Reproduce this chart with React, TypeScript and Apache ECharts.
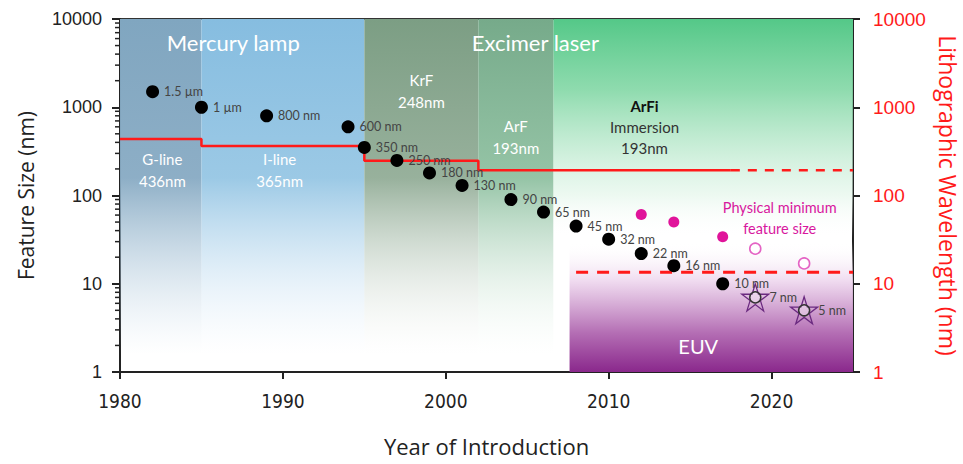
import React, { useEffect, useRef } from "react";
import * as echarts from "echarts";

// ---- data ----
const featureYears = [1982, 1985, 1989, 1994, 1995, 1997, 1999, 2001, 2004, 2006, 2008, 2010, 2012, 2014, 2017];
const featureSizes = [1500, 1000, 800, 600, 350, 250, 180, 130, 90, 65, 45, 32, 22, 16, 10];
const featureLabels = ["1.5 µm", "1 µm", "800 nm", "600 nm", "350 nm", "250 nm", "180 nm", "130 nm", "90 nm", "65 nm", "45 nm", "32 nm", "22 nm", "16 nm", "10 nm"];

const euvNodeYears = [2019, 2022];
const euvNodeSizes = [7, 5];
const euvNodeLabels = ["7 nm", "5 nm"];

const physMinYears = [2012, 2014, 2017];
const physMinSizes = [61, 50, 34];
const physMinProjYears = [2019, 2022];
const physMinProjSizes = [25, 17];

const wavelengthYears = [1980, 1985, 1995, 2002, 2017.5];
const wavelengths = [436, 365, 248, 193, 193];
const wavelengthProjYears = [2017.5, 2025];
const wavelengthProjValues = [193, 193];
const euvWavelengthYears = [2008, 2025];
const euvWavelengthValues = [13.5, 13.5];

const xTicks = [1980, 1990, 2000, 2010, 2020];
const yTicks = [1, 10, 100, 1000, 10000];

const eraNames = ["ArFi", "EUV", "G-line", "I-line", "KrF", "ArF"];
const eraStarts = [2006.6, 2007.6, 1980, 1985, 1995, 2002];
const eraEnds = [2025, 2025, 1985, 1995, 2002, 2006.6];
const eraBottoms = [1, 1, 1, 1, 1, 1];
const eraTops = [10000, 30, 10000, 10000, 10000, 10000];

// annotation texts (data coordinates)
const noteTexts = ["Mercury lamp", "Excimer laser", "G-line\n436nm", "I-line\n365nm", "KrF\n248nm", "ArF\n193nm", "{b|ArFi}\n{n|Immersion}\n{n|193nm}", "Physical minimum\nfeature size", "EUV"];
const noteYears = [1986.95, 2005.5, 1982.6, 1989.8, 1998.5, 2004.3, 2012.2, 2020.5, 2015.5];
const noteValues = [5350, 5350, 195, 195, 1527, 460, 597, 55.6, 1.97];

const HUMANIST = "Lato, 'Open Sans', sans-serif";
const NARROW = "'Liberation Sans Narrow', 'DejaVu Sans Condensed', 'Liberation Sans', sans-serif";

function grad(stops: [number, string][]) {
  return new echarts.graphic.LinearGradient(0, 0, 0, 1, stops.map(([offset, color]) => ({ offset, color })));
}

const eraFills: Record<string, any> = {
  "G-line": grad([[0, "rgba(128,166,192,1)"], [0.45, "rgba(135,170,195,0.95)"], [0.95, "rgba(200,220,235,0)"], [1, "rgba(255,255,255,0)"]]),
  "I-line": grad([[0, "rgba(134,189,224,1)"], [0.45, "rgba(150,198,228,0.95)"], [0.95, "rgba(220,235,248,0)"], [1, "rgba(255,255,255,0)"]]),
  KrF: grad([[0, "rgba(124,158,132,1)"], [0.45, "rgba(140,168,145,0.9)"], [0.95, "rgba(230,235,230,0)"], [1, "rgba(255,255,255,0)"]]),
  ArF: grad([[0, "rgba(118,170,138,1)"], [0.45, "rgba(130,185,150,0.85)"], [0.95, "rgba(230,245,235,0)"], [1, "rgba(255,255,255,0)"]]),
  ArFi: grad([[0, "rgba(84,200,136,1)"], [0.2, "rgba(130,215,165,0.9)"], [0.5, "rgba(225,245,232,0.6)"], [0.62, "rgba(255,255,255,0)"], [1, "rgba(255,255,255,0)"]]),
  EUV: grad([[0, "rgba(255,255,255,0)"], [0.3, "rgba(238,215,238,0.9)"], [0.7, "rgba(180,110,180,1)"], [1, "rgba(138,40,140,1)"]]),
};

const STAR = "path://M50,2 L61.2,36.3 L97.5,36.3 L68.2,57.5 L79.4,91.8 L50,70.6 L20.6,91.8 L31.8,57.5 L2.5,36.3 L38.8,36.3 Z";

const plain = (v: number) => String(v);

export default function App() {
  const ref = useRef<HTMLDivElement>(null);

  useEffect(() => {
    document.body.style.margin = "0";
    if (!ref.current) return;
    const chart = echarts.init(ref.current, undefined, { renderer: "svg" });

    const markAreaData = eraNames.map((name, i) => [
      { name, itemStyle: { color: eraFills[name] }, xAxis: eraStarts[i], yAxis: eraBottoms[i] },
      { xAxis: eraEnds[i], yAxis: eraTops[i] },
    ]);

    const option: any = {
      animation: false,
      backgroundColor: "#fff",
      grid: {
        left: 120, right: 110, top: 19, bottom: 92,
        outerBoundsMode: "none", containLabel: false,
        show: true, borderColor: "#333", borderWidth: 2, backgroundColor: "transparent",
      },
      xAxis: {
        type: "value",
        min: 1980,
        max: 2025,
        interval: 10,
        splitLine: { show: false },
        axisLine: { show: true, lineStyle: { color: "#222", width: 2 } },
        axisTick: { show: true, length: 7, lineStyle: { color: "#222", width: 2 }, customValues: xTicks },
        axisLabel: { color: "#222", fontSize: 19, fontFamily: NARROW, margin: 19, customValues: xTicks, formatter: plain },
        name: "Year of Introduction",
        nameLocation: "middle",
        nameGap: 63,
        nameTextStyle: { color: "#222", fontSize: 22, fontFamily: "'Open Sans', sans-serif" },
      },
      yAxis: [
        {
          type: "log",
          logBase: 10,
          min: 1,
          max: 10000,
          position: "left",
          splitLine: { show: false },
          axisLine: { show: true, lineStyle: { color: "#222", width: 2 } },
          axisTick: { show: true, length: 8, lineStyle: { color: "#222", width: 2 }, customValues: yTicks },
          axisLabel: { color: "#222", fontSize: 18, fontFamily: "'Liberation Sans', sans-serif", margin: 18, customValues: yTicks, formatter: plain },
          name: "Feature Size (nm)",
          nameLocation: "middle",
          nameGap: 84,
          nameRotate: 90,
          nameTextStyle: { color: "#222", fontSize: 21, fontFamily: "'Open Sans', sans-serif" },
        },
        {
          type: "log",
          logBase: 10,
          min: 1,
          max: 10000,
          position: "right",
          splitLine: { show: false },
          axisLine: { show: true, lineStyle: { color: "#222", width: 2 } },
          axisTick: { show: true, length: 7, lineStyle: { color: "#222", width: 2 }, customValues: yTicks },
          axisLabel: { color: "#ff1a1a", fontSize: 19, fontFamily: "'Liberation Sans', sans-serif", margin: 20, customValues: yTicks, formatter: plain },
          name: "Lithographic Wavelength (nm)",
          nameLocation: "middle",
          nameGap: 83,
          nameRotate: -90,
          nameTextStyle: { color: "#ff1a1a", fontSize: 23, fontFamily: "'Open Sans', sans-serif" },
        },
      ],
      series: [
        {
          type: "scatter",
          name: "Feature size",
          data: featureYears.map((x, i) => [x, featureSizes[i]]),
          symbolSize: 13,
          itemStyle: { color: "#000", opacity: 1 },
          z: 6,
          label: {
            show: true,
            position: "right",
            distance: 5,
            color: "#444",
            fontSize: 12.5,
            fontFamily: HUMANIST,
            formatter: (p: any) => featureLabels[p.dataIndex],
          },
          markArea: { silent: true, z: 1, label: { show: false }, data: markAreaData },
        },
        {
          type: "scatter",
          name: "Physical minimum",
          data: physMinYears.map((x, i) => [x, physMinSizes[i]]),
          symbolSize: 11,
          itemStyle: { color: "#e0149a", opacity: 1 },
          z: 6,
        },
        {
          type: "scatter",
          name: "Physical minimum projected",
          data: physMinProjYears.map((x, i) => [x, physMinProjSizes[i]]),
          symbolSize: 11,
          itemStyle: { color: "#fff", borderColor: "#e463c4", borderWidth: 1.6, opacity: 1 },
          z: 6,
        },
        {
          type: "scatter",
          name: "EUV nodes",
          data: euvNodeYears.map((x, i) => [x, euvNodeSizes[i]]),
          symbol: STAR,
          symbolSize: 27,
          itemStyle: { color: "rgba(0,0,0,0)", borderColor: "#6b2a80", borderWidth: 1.3, opacity: 1 },
          z: 6,
          label: {
            show: true,
            position: "right",
            distance: 0,
            color: "#444",
            fontSize: 12.5,
            fontFamily: HUMANIST,
            formatter: (p: any) => euvNodeLabels[p.dataIndex],
          },
        },
        {
          type: "scatter",
          name: "EUV nodes circle",
          data: euvNodeYears.map((x, i) => [x, euvNodeSizes[i]]),
          symbolSize: 11,
          itemStyle: { color: "rgba(255,255,255,0.35)", borderColor: "#333", borderWidth: 1.5, opacity: 1 },
          z: 7,
        },
        {
          type: "line",
          name: "Wavelength",
          yAxisIndex: 1,
          step: "end",
          data: wavelengthYears.map((x, i) => [x, wavelengths[i]]),
          symbol: "none",
          lineStyle: { color: "#ff1a1a", width: 2.5 },
          z: 5,
        },
        {
          type: "line",
          name: "Wavelength projected",
          yAxisIndex: 1,
          data: wavelengthProjYears.map((x, i) => [x, wavelengthProjValues[i]]),
          symbol: "none",
          lineStyle: { color: "#ff1a1a", width: 2.5, type: [9, 8] },
          z: 5,
        },
        {
          type: "line",
          name: "EUV wavelength",
          yAxisIndex: 1,
          data: euvWavelengthYears.map((x, i) => [x, euvWavelengthValues[i]]),
          symbol: "none",
          lineStyle: { color: "#ff1a1a", width: 3, type: [12, 9] },
          z: 5,
        },
      ],
    };

    chart.setOption(option);

    // annotations and minor log ticks
    const graphics: any[] = [];
    const styleFor = (t: string) => {
      if (t === "Mercury lamp" || t === "Excimer laser") return { fill: "#fff", font: `22px ${HUMANIST}`, lineHeight: 24 };
      if (t === "EUV") return { fill: "#fff", font: `20px ${HUMANIST}`, lineHeight: 24 };
      if (t.startsWith("Physical")) return { fill: "#d8189e", font: `14.5px ${HUMANIST}`, lineHeight: 21 };
      return { fill: "#fff", font: `15px ${HUMANIST}`, lineHeight: 22 };
    };
    noteTexts.forEach((t, i) => {
      const [px, py] = chart.convertToPixel({ xAxisIndex: 0, yAxisIndex: 0 }, [noteYears[i], noteValues[i]]) as number[];
      if (t.startsWith("{b|")) {
        graphics.push({
          type: "text",
          x: px,
          y: py,
          z: 10,
          style: {
            text: t,
            align: "center",
            verticalAlign: "middle",
            rich: {
              b: { fill: "#111", font: `bold 15px ${HUMANIST}`, lineHeight: 21, align: "center" },
              n: { fill: "#333", font: `15px ${HUMANIST}`, lineHeight: 21, align: "center" },
            },
          },
        });
      } else {
        const s = styleFor(t);
        graphics.push({ type: "text", x: px, y: py, z: 10, style: { text: t, align: "center", verticalAlign: "middle", ...s } });
      }
    });
    const axisX = chart.convertToPixel({ xAxisIndex: 0 }, 1980) as number;
    for (let d = 1; d < 10000; d *= 10) {
      for (let m = 2; m <= 9; m++) {
        const py = chart.convertToPixel({ yAxisIndex: 0 }, m * d) as number;
        graphics.push({ type: "line", z: 10, shape: { x1: axisX - 5, y1: py, x2: axisX, y2: py }, style: { stroke: "#222", lineWidth: 1.5 } });
      }
    }
    chart.setOption({ graphic: graphics });

    return () => chart.dispose();
  }, []);

  return <div ref={ref} style={{ width: 963, height: 464 }} />;
}
